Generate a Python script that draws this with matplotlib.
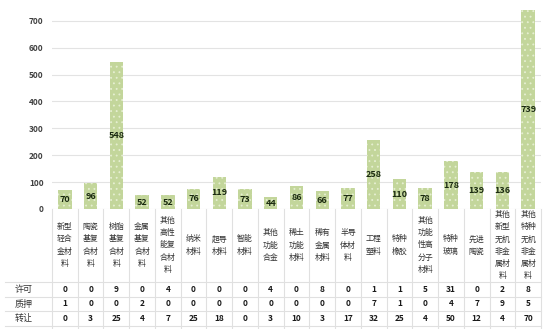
import numpy as np
import matplotlib.pyplot as plt
from matplotlib.lines import Line2D
import matplotlib.transforms as mtransforms

plt.rcParams['font.family'] = ['Noto Sans CJK SC', 'DejaVu Sans']
plt.rcParams['hatch.linewidth'] = 0.6

# ==============================
# DATA
# ==============================
categories = [
    "新型轻合金材料", "陶瓷基复合材料", "树脂基复合材料", "金属基复合材料",
    "其他高性能复合材料", "纳米材料", "超导材料", "智能材料", "其他功能合金",
    "稀土功能材料", "稀有金属材料", "半导体材料", "工程塑料", "特种橡胶",
    "其他功能性高分子材料", "特种玻璃", "先进陶瓷", "其他新型无机非金属材料",
    "其他特种无机非金属材料",
]
totals = [70, 96, 548, 52, 52, 76, 119, 73, 44, 86, 66, 77, 258, 110, 78, 178, 139, 136, 739]
row_names = ["许可", "质押", "转让"]
licence = [0, 0, 9, 0, 4, 0, 0, 0, 4, 0, 8, 0, 1, 1, 5, 31, 0, 2, 8]
pledge = [1, 0, 0, 2, 0, 0, 0, 0, 0, 0, 0, 0, 7, 1, 0, 4, 7, 9, 5]
transfer = [0, 3, 25, 4, 7, 25, 18, 0, 3, 10, 3, 17, 32, 25, 4, 50, 12, 4, 70]
yticks = [0, 100, 200, 300, 400, 500, 600, 700]

# ==============================
# LAYOUT (pixels -> figure coords)
# ==============================
W, H = 548, 329


def fx(p):
    return p / W


def fy(p):
    return 1 - p / H


fig = plt.figure(figsize=(W / 100, H / 100), dpi=100)
ax = fig.add_axes([fx(52), fy(209), fx(541) - fx(52), fy(10) - fy(209)])

x = np.arange(len(categories))
ax.bar(x, totals, width=0.52, color="#c3d69b", edgecolor="#e6efd2",
       hatch="...", linewidth=0, zorder=2)

for xi, v in zip(x, totals):
    ax.text(xi, v / 2, str(v), ha="center", va="center", fontsize=6.5,
            fontweight="bold", color="#1a2a10", zorder=3)

ax.set_xlim(-0.5, len(categories) - 0.5)
ax.set_ylim(0, 740)
ax.set_yticks(yticks)
ax.set_yticklabels([str(t) for t in yticks], fontsize=6, color="#404040",
                   fontweight="bold")
ax.tick_params(axis="y", length=0, pad=6)
ax.set_xticks([])
ax.grid(axis="y", color="#e3e3e3", linewidth=0.8, zorder=0)
for s in ax.spines.values():
    s.set_visible(False)

# ==============================
# DATA TABLE
# ==============================
trans = mtransforms.blended_transform_factory(ax.transData, fig.transFigure)
line_color = "#e0e0e0"

for i in range(len(categories) + 1):
    fig.add_artist(Line2D([i - 0.5, i - 0.5], [fy(209), fy(329)],
                          transform=trans, color=line_color, linewidth=0.8))

for yp in [282, 296.5, 311, 325.5]:
    fig.add_artist(Line2D([fx(5), fx(541)], [fy(yp), fy(yp)],
                          transform=fig.transFigure, color=line_color,
                          linewidth=0.8))


def wrap(name):
    return "\n".join(name[k:k + 2] for k in range(0, len(name), 2))


for xi, name in zip(x, categories):
    fig.text(xi, fy(245), wrap(name), transform=trans, ha="center",
             va="center", fontsize=5.7, color="#333333", linespacing=1.45)

row_y = [289.5, 304, 318.5]
for name, vals, yp in zip(row_names, [licence, pledge, transfer], row_y):
    fig.text(fx(24), fy(yp), name, ha="center", va="center", fontsize=6.5,
             color="#333333")
    for xi, v in zip(x, vals):
        fig.text(xi, fy(yp), str(v), transform=trans, ha="center",
                 va="center", fontsize=6, color="#1a1a1a", fontweight="bold")

fig.savefig("out.png", dpi=100)
